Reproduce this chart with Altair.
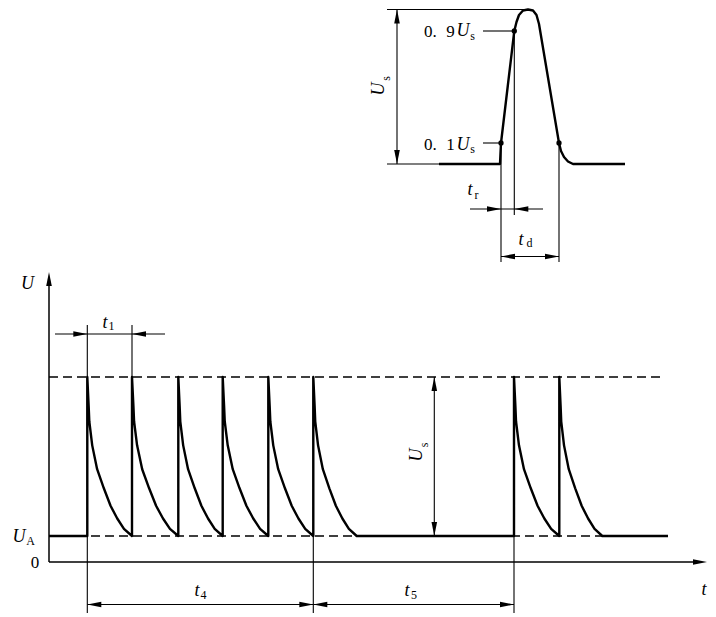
import altair as alt
import pandas as pd

# ---------------- data (diagram units = picture pixels) ----------------
# bottom pulse train
level_UA = 536.0          # U_A level
level_top = 377.0         # U_A + U_s level
axis_x0 = 49.0
axis_y0 = 562.0
group1_rise = [87.3, 132.0, 178.3, 222.7, 268.3, 313.3]
group1_end = [132.0, 178.3, 222.7, 268.3, 313.3, 356.7]
group2_rise = [514.0, 559.3]
group2_end = [559.3, 602.3]
train_start = 49.0
train_stop = 668.0
dash_stop = 660.0
# decay profile (fraction of time, fraction of U_s)
decay_t = [0.0, 0.03, 0.045, 0.11, 0.22, 0.37, 0.52, 0.67, 0.82, 1.0]
decay_v = [1.0, 0.82, 0.72, 0.57, 0.42, 0.30, 0.19, 0.11, 0.045, 0.0]

# top single pulse outline
pulse_x = [439, 500, 500.5, 501, 514.3, 516.5, 519, 523, 528, 533, 536.5, 539, 559, 561, 564, 568, 573, 625]
pulse_y = [164, 164, 153, 143, 31, 22, 15, 10.5, 9.5, 10.5, 15, 24, 143, 151, 157, 161.5, 164, 164]
dot_x = [501, 514.3, 559]
dot_y = [143, 31, 143]

# thin lines (x1, y1, x2, y2)
thin_x1 = [387, 387, 397, 483, 483, 501, 514.3, 559, 470, 501,
           87.3, 132.0, 313.3, 514.0, 55, 87.3, 313.3, 434.3]
thin_y1 = [9.5, 164, 9.5, 31, 143, 143, 31, 143, 209, 256.5,
           325, 325, 377, 536, 334, 604.5, 604.5, 377]
thin_x2 = [528, 439, 397, 514.3, 501, 501, 514.3, 559, 543, 559,
           87.3, 132.0, 313.3, 514.0, 165, 313.3, 514.0, 434.3]
thin_y2 = [9.5, 164, 164, 31, 143, 262, 215, 262, 209, 256.5,
           613, 377, 613, 613, 334, 604.5, 604.5, 536]

# arrow heads (tip x, tip y, direction angle: 0 right, 90 down, 180 left, 270 up)
arrow_x = [397, 397, 501, 514.3, 501, 559,
           87.3, 132.0, 87.3, 313.3, 313.3, 514.0, 434.3, 434.3, 49.0, 707.0]
arrow_y = [9.5, 164, 209, 209, 256.5, 256.5,
           334, 334, 604.5, 604.5, 604.5, 604.5, 377, 536, 272.0, 562.0]
arrow_a = [270, 90, 0, 180, 180, 0,
           0, 180, 180, 0, 180, 0, 270, 90, 270, 0]

# labels
ital_text = ["U", "U", "t", "t", "U", "U", "t", "t", "t", "t"]
ital_x = [463, 463, 470, 521, 27.5, 19, 105, 197, 407, 704]
ital_y = [31, 144.5, 190, 240, 284, 537, 323, 591, 591, 590]
sub_text = ["s", "s", "r", "d", "A", "1", "4", "5"]
sub_x = [472.5, 472.5, 476.5, 529.5, 30.5, 111.5, 203.5, 414]
sub_y = [35.5, 149, 195, 243, 541, 326, 595, 595]
lead_text = ["0.", "0."]
lead_x = [424, 424]
lead_y = [31.5, 145]
digit_text = ["9", "1", "0"]
digit_x = [450.5, 450.5, 35]
digit_y = [31.5, 145, 563]
rot_text = ["U", "U"]
rot_x = [379, 417]
rot_y = [89, 455]
rot_sub_text = ["s", "s"]
rot_sub_x = [386, 423.5]
rot_sub_y = [78.5, 445]

# ---------------- build tables ----------------
thick_rows = []
pts = [(train_start, level_UA)]
for rises, ends in ((group1_rise, group1_end), (group2_rise, group2_end)):
    for px, pe in zip(rises, ends):
        pts.append((px, level_UA))
        pts.append((px, level_top))
        for t, v in zip(decay_t[1:], decay_v[1:]):
            pts.append((px + t * (pe - px), level_UA - v * (level_UA - level_top)))
pts.append((train_stop, level_UA))
for i, (x, y) in enumerate(pts):
    thick_rows.append({"g": "train", "o": i, "x": x, "y": y})
for i, (x, y) in enumerate(zip(pulse_x, pulse_y)):
    thick_rows.append({"g": "pulse", "o": i, "x": x, "y": y})
thick_df = pd.DataFrame(thick_rows)

dash_df = pd.DataFrame({"x1": [axis_x0, axis_x0], "x2": [dash_stop, dash_stop],
                        "y1": [level_top, level_UA], "y2": [level_top, level_UA]})
thin_df = pd.DataFrame({"x1": thin_x1, "y1": thin_y1, "x2": thin_x2, "y2": thin_y2})
axis_df = pd.DataFrame({"x1": [axis_x0, axis_x0], "y1": [axis_y0, axis_y0],
                        "x2": [axis_x0, 700.0], "y2": [280.0, axis_y0]})
arrow_df = pd.DataFrame({"x": arrow_x, "y": arrow_y, "a": arrow_a})
dot_df = pd.DataFrame({"x": dot_x, "y": dot_y})

xs = alt.Scale(domain=[8, 708], nice=False, zero=False)
ys = alt.Scale(domain=[8, 609], nice=False, zero=False, reverse=True)

def X(f):
    return alt.X(f, type="quantitative", scale=xs, axis=None)

def Y(f):
    return alt.Y(f, type="quantitative", scale=ys, axis=None)

FONT = "Liberation Serif"

thick = alt.Chart(thick_df).mark_line(color="black", strokeWidth=2.4, strokeJoin="round").encode(
    x=X("x"), y=Y("y"), detail="g:N", order="o:Q")

dashed = alt.Chart(dash_df).mark_rule(color="black", strokeWidth=1.3, strokeDash=[9, 5]).encode(
    x=X("x1"), x2="x2:Q", y=Y("y1"), y2="y2:Q")

thin = alt.Chart(thin_df).mark_rule(color="black", strokeWidth=1.1).encode(
    x=X("x1"), x2="x2:Q", y=Y("y1"), y2="y2:Q")

axes = alt.Chart(axis_df).mark_rule(color="black", strokeWidth=1.5).encode(
    x=X("x1"), x2="x2:Q", y=Y("y1"), y2="y2:Q")

arrows = alt.Chart(arrow_df).mark_point(
    shape="M0,0L-2,-0.4L-2,0.4Z", filled=True, color="black", opacity=1, size=196, strokeWidth=0
).encode(x=X("x"), y=Y("y"), angle=alt.Angle("a:Q", scale=None))

dots = alt.Chart(dot_df).mark_point(shape="circle", filled=True, color="black", opacity=1, size=28).encode(
    x=X("x"), y=Y("y"))

def text_layer(texts, xv, yv, size, style="normal", angle=0, align="center"):
    df = pd.DataFrame({"t": texts, "x": xv, "y": yv})
    kw = dict(font=FONT, fontSize=size, fontStyle=style, color="black",
              align=align, baseline="middle")
    if angle:
        kw["angle"] = angle
    return alt.Chart(df).mark_text(**kw).encode(x=X("x"), y=Y("y"), text="t:N")

labels = [
    text_layer(ital_text, ital_x, ital_y, 18, "italic"),
    text_layer(sub_text, sub_x, sub_y, 12),
    text_layer(lead_text, lead_x, lead_y, 17, align="left"),
    text_layer(digit_text, digit_x, digit_y, 17),
    text_layer(rot_text, rot_x, rot_y, 18, "italic", 270),
    text_layer(rot_sub_text, rot_sub_x, rot_sub_y, 12, "normal", 270),
]

chart = alt.layer(dashed, thin, axes, thick, arrows, dots, *labels).properties(
    width=700, height=601, padding=0, background="white"
).configure_view(stroke=None)

chart.save("out.html", embed_options={"renderer": "svg", "actions": False})
